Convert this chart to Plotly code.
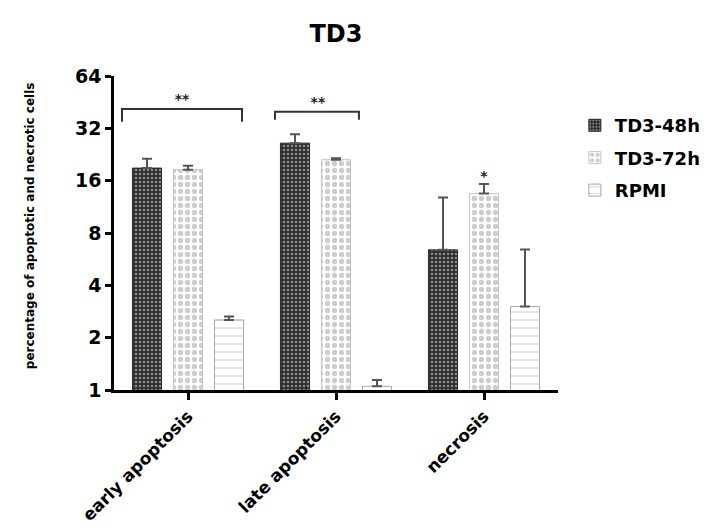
import plotly.graph_objects as go

categories = ["early apoptosis", "late apoptosis", "necrosis"]
series_names = ["TD3-48h", "TD3-72h", "RPMI"]
td3_48h = [18.9, 26.3, 6.4]
td3_48h_err = [2.5, 3.3, 6.4]
td3_72h = [18.5, 21.1, 13.5]
td3_72h_err = [1.0, 0.4, 1.8]
rpmi = [2.53, 1.05, 3.02]
rpmi_err = [0.12, 0.09, 3.4]
y_ticks = [1, 2, 4, 8, 16, 32, 64]

FONT = "DejaVu Sans"
x_idx = list(range(len(categories)))

styles = [
    dict(color="#3a3a3a", line=dict(color="#2a2a2a", width=1),
         pattern=dict(shape=".", fgcolor="#e6e6e6", bgcolor="#2e2e2e", size=4, solidity=0.35)),
    dict(color="white", line=dict(color="#c4c4c4", width=1),
         pattern=dict(shape=".", fgcolor="#9c9c9c", bgcolor="white", size=7, solidity=0.45)),
    dict(color="white", line=dict(color="#a8a8a8", width=1),
         pattern=dict(shape="-", fgcolor="#a8a8a8", bgcolor="white", size=8, solidity=0.15)),
]

fig = go.Figure()
for i, (name, vals, errs) in enumerate(zip(series_names, [td3_48h, td3_72h, rpmi],
                                            [td3_48h_err, td3_72h_err, rpmi_err])):
    fig.add_trace(go.Bar(
        x=x_idx, y=vals, name=name, legendgroup=name,
        marker=styles[i],
        error_y=dict(type="data", array=errs, arrayminus=[0] * len(errs), symmetric=False,
                     color="#555555", thickness=2, width=5),
    ))

# significance brackets
brackets = [
    dict(x=[-0.446, -0.446, 0.365, 0.365], y=[34.9, 41.4, 41.4, 34.9]),
    dict(x=[0.588, 0.588, 1.155, 1.155], y=[35.8, 39.8, 39.8, 35.8]),
]
for b in brackets:
    fig.add_trace(go.Scatter(x=b["x"], y=b["y"], mode="lines", showlegend=False,
                             line=dict(color="#333333", width=2), hoverinfo="skip"))

stars_x = [-0.04, 0.878, 2.0]
stars_y = [46.0, 44.5, 16.6]
stars_t = ["**", "**", "*"]
fig.add_trace(go.Scatter(x=stars_x, y=stars_y, mode="text", text=stars_t, showlegend=False,
                         textfont=dict(family=FONT, size=14, color="#222222", weight="bold"),
                         hoverinfo="skip"))

# page body has an 8px margin, so the figure is sized/offset to compensate
fig.update_layout(
    width=703, height=523,
    margin=dict(l=106, r=153, t=68, b=141, autoexpand=False),
    paper_bgcolor="white", plot_bgcolor="white",
    barmode="group", bargap=0.169, bargroupgap=0.29,
    title=dict(text="TD3", x=0.5, xref="paper", y=1 - 26 / 523, yanchor="middle",
               font=dict(family=FONT, size=24, color="black", weight="bold")),
    legend=dict(x=1.038, y=0.901, xanchor="left", yanchor="top",
                font=dict(family=FONT, size=18, color="black", weight="bold"),
                tracegroupgap=6, traceorder="grouped", itemwidth=30,
                bgcolor="rgba(0,0,0,0)"),
    showlegend=True,
)

fig.update_xaxes(
    range=[-0.5, 2.5], tickvals=x_idx, ticktext=categories, tickangle=-45,
    showline=True, linecolor="black", linewidth=2.5, ticks="outside", ticklen=7,
    tickwidth=2.5, tickcolor="black", showgrid=False, zeroline=False,
    tickfont=dict(family=FONT, size=17, color="black", weight="bold"),
)
fig.update_yaxes(
    type="log", range=[0, 1.80618], tickvals=y_ticks, ticktext=[str(v) for v in y_ticks],
    showline=True, linecolor="black", linewidth=2.5, ticks="outside", ticklen=6,
    tickwidth=2.5, tickcolor="black", showgrid=False, zeroline=False,
    tickfont=dict(family=FONT, size=19, color="black", weight="bold"),
)

fig.add_annotation(text="percentage of apoptotic and necrotic cells", xref="paper", yref="paper",
                   x=-0.189, y=0.522, xanchor="center", yanchor="middle", textangle=-90,
                   showarrow=False,
                   font=dict(family=FONT, size=12, color="black", weight="bold"))

fig.write_html("out.html")
